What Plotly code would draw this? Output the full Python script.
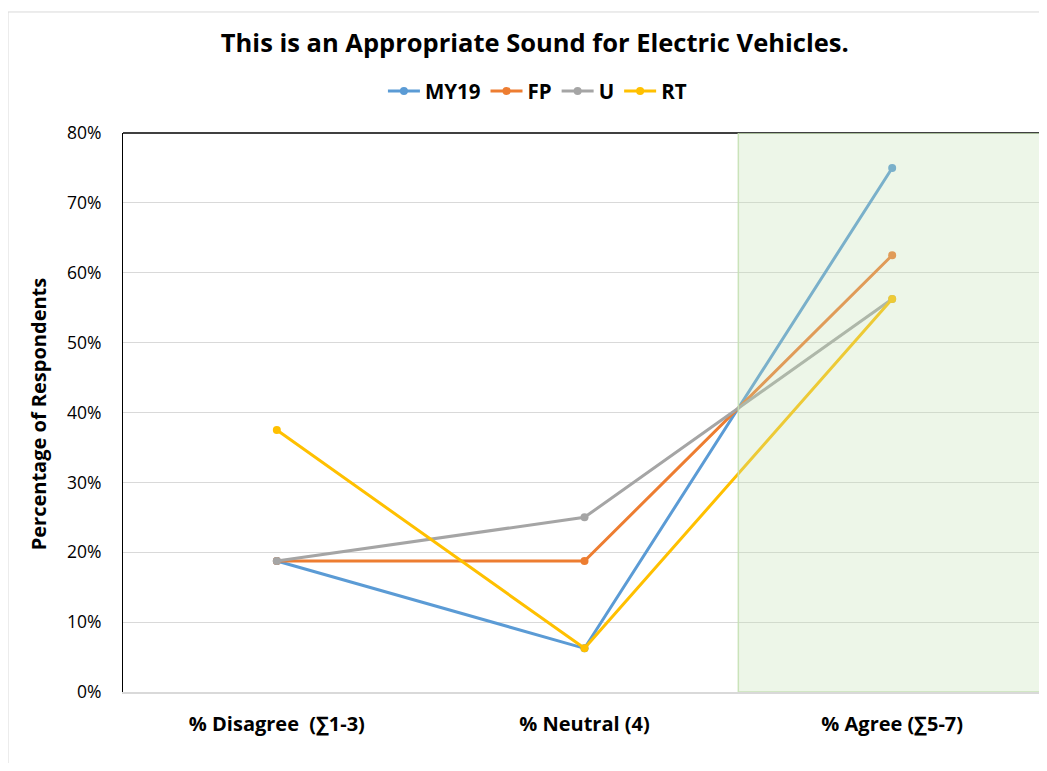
import plotly.graph_objects as go

categories = ["% Disagree  (∑1-3)", "% Neutral (4)", "% Agree (∑5-7)"]
series_names = ["MY19", "FP", "U", "RT"]
my19 = [18.75, 6.25, 75.0]
fp = [18.75, 18.75, 62.5]
u = [18.75, 25.0, 56.25]
rt = [37.5, 6.25, 56.25]
colors = ["#5B9BD5", "#ED7D31", "#A5A5A5", "#FFC000"]
y_ticks = [0, 10, 20, 30, 40, 50, 60, 70, 80]
y_tick_labels = [f"{v}%" for v in y_ticks]

FONT = "Open Sans"

fig = go.Figure()
for name, vals, col in zip(series_names, [my19, fp, u, rt], colors):
    fig.add_trace(go.Scatter(
        x=categories, y=vals, name=f"<b>{name}</b>", mode="lines+markers",
        line=dict(color=col, width=3),
        marker=dict(color=col, size=8),
    ))

fig.update_layout(
    width=1039, height=755,
    paper_bgcolor="white", plot_bgcolor="white",
    margin=dict(l=115, r=1, t=125, b=71),
    font=dict(family=FONT, color="black", size=17),
    title=dict(text="<b>This is an Appropriate Sound for Electric Vehicles.</b>",
               x=0.507, xanchor="center", y=0.9536, yanchor="middle",
               font=dict(size=25.5, family=FONT, color="black")),
    legend=dict(orientation="h", x=0.449, xanchor="center", y=1.075, yanchor="middle",
                font=dict(size=20.5, family=FONT, color="black"),
                itemwidth=32, tracegroupgap=0),
    showlegend=True,
    xaxis=dict(
        type="category", range=[-0.5, 2.5],
        showgrid=False, showline=True, linecolor="#D9D9D9", linewidth=2,
        ticks="outside", ticklen=13, tickcolor="rgba(0,0,0,0)",
        tickfont=dict(size=20, family=FONT, color="black"),
        ticktext=[f"<b>{c}</b>" for c in categories], tickvals=categories,
    ),
    yaxis=dict(
        range=[0, 80], tickvals=y_ticks, ticktext=y_tick_labels,
        showgrid=True, gridcolor="#D9D9D9", gridwidth=1,
        showline=True, linecolor="black", linewidth=1, mirror=True,
        ticks="outside", ticklen=17, tickcolor="rgba(0,0,0,0)",
        tickfont=dict(size=17.5, family=FONT, color="black"),
        zeroline=False,
    ),
    annotations=[
        dict(text="<b>Percentage of Respondents</b>", xref="paper", yref="paper",
             x=-0.092, y=0.497, xanchor="center", yanchor="middle", textangle=-90,
             showarrow=False, font=dict(size=20, family=FONT, color="black")),
    ],
    shapes=[
        dict(type="line", xref="paper", yref="paper", x0=0, x1=1, y0=1, y1=1,
             line=dict(color="black", width=1.5), layer="above"),
        dict(type="rect", xref="x", yref="y", x0=1.5, x1=2.5, y0=0, y1=80,
             fillcolor="rgba(197,224,180,0.3)", line=dict(color="rgba(197,224,180,0.9)", width=1.5),
             layer="above"),
        dict(type="rect", xref="paper", yref="paper", x0=-0.1246, x1=1.01, y0=-0.2, y1=1.2165,
             line=dict(color="#D9D9D9", width=1), fillcolor="rgba(0,0,0,0)", layer="below"),
    ],
)

fig.write_html("out.html")
